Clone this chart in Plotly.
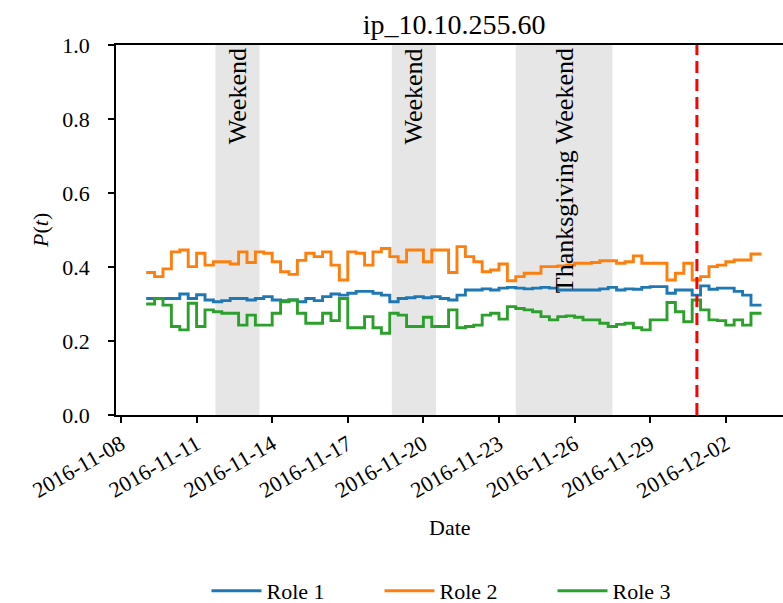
import pandas as pd
import plotly.graph_objects as go

# ---------------- data ----------------
start_time = "2016-11-09 00:00"
bin_hours = 8

role1 = [0.315, 0.315, 0.315, 0.315, 0.327, 0.315, 0.325, 0.311, 0.306, 0.309, 0.315, 0.315,
         0.311, 0.315, 0.320, 0.311, 0.309, 0.311, 0.306, 0.315, 0.309, 0.320, 0.327,
         0.324, 0.329, 0.334, 0.334, 0.329, 0.324, 0.306, 0.315, 0.317, 0.320, 0.317, 0.320,
         0.315, 0.311, 0.324, 0.338, 0.338, 0.341, 0.338, 0.343, 0.345, 0.343, 0.341, 0.343,
         0.345, 0.343,
         0.338, 0.338, 0.338, 0.338, 0.338, 0.341, 0.345, 0.338, 0.341, 0.340, 0.345, 0.347,
         0.347, 0.329, 0.338, 0.338, 0.324, 0.349, 0.340, 0.343, 0.343, 0.334, 0.324, 0.297, 0.297]

role2 = [0.385, 0.374, 0.395, 0.441, 0.446, 0.401, 0.437, 0.405, 0.414, 0.414, 0.408, 0.441,
         0.412, 0.441, 0.437, 0.414, 0.387, 0.380, 0.418, 0.437, 0.428, 0.441, 0.405,
         0.365, 0.441, 0.437, 0.405, 0.441, 0.450, 0.428, 0.414, 0.446, 0.446, 0.414, 0.446,
         0.446, 0.385, 0.455, 0.428, 0.414, 0.387, 0.392, 0.408, 0.363, 0.374, 0.383, 0.383,
         0.401, 0.401,
         0.403, 0.405, 0.410, 0.410, 0.412, 0.417, 0.417, 0.410, 0.414, 0.430, 0.410, 0.410,
         0.410, 0.365, 0.383, 0.410, 0.365, 0.374, 0.401, 0.405, 0.414, 0.419, 0.419, 0.435, 0.435]

role3 = [0.300, 0.315, 0.297, 0.239, 0.230, 0.302, 0.239, 0.284, 0.279, 0.275, 0.275, 0.243,
         0.270, 0.243, 0.243, 0.275, 0.306, 0.311, 0.275, 0.248, 0.248, 0.275, 0.255,
         0.315, 0.236, 0.236, 0.266, 0.236, 0.221, 0.275, 0.270, 0.239, 0.239, 0.264, 0.239,
         0.239, 0.284, 0.236, 0.239, 0.243, 0.270, 0.275, 0.259, 0.293, 0.288, 0.284, 0.279,
         0.266, 0.257,
         0.266, 0.268, 0.264, 0.257, 0.257, 0.248, 0.239, 0.245, 0.248, 0.236, 0.230, 0.257,
         0.257, 0.304, 0.279, 0.252, 0.311, 0.284, 0.257, 0.255, 0.243, 0.257, 0.243, 0.275, 0.275]

series_names = ["Role 1", "Role 2", "Role 3"]
series_colors = ["#1f77b4", "#ff7f0e", "#2ca02c"]

shade_starts = ["2016-11-11 18:00", "2016-11-18 18:00", "2016-11-23 16:00"]
shade_ends = ["2016-11-13 12:00", "2016-11-20 12:00", "2016-11-27 12:00"]
shade_labels = ["Weekend", "Weekend", "Thanksgiving Weekend"]

event_time = "2016-11-30 20:30"

tick_dates = ["2016-11-08", "2016-11-11", "2016-11-14", "2016-11-17", "2016-11-20",
              "2016-11-23", "2016-11-26", "2016-11-29", "2016-12-02"]
y_ticks = [0.0, 0.2, 0.4, 0.6, 0.8, 1.0]

x_range = ["2016-11-07 19:15", "2016-12-04 06:30"]
title_text = "ip_10.10.255.60"

# ---------------- figure ----------------
FONT = "Liberation Serif"
times = pd.date_range(start_time, periods=len(role1), freq=f"{bin_hours}h")
times_draw = list(times) + [times[-1] + pd.Timedelta(hours=2)]

fig = go.Figure()
for name, color, vals in zip(series_names, series_colors, [role1, role2, role3]):
    fig.add_trace(go.Scatter(
        x=times_draw, y=list(vals) + [vals[-1]], mode="lines", name=name,
        line=dict(color=color, width=2.9, shape="hv"),
    ))

for s, e, lab in zip(shade_starts, shade_ends, shade_labels):
    fig.add_vrect(x0=s, x1=e, fillcolor="rgba(128,128,128,0.2)", line_width=0, layer="below")
    mid = pd.Timestamp(s) + (pd.Timestamp(e) - pd.Timestamp(s)) / 2
    fig.add_annotation(x=mid, y=0.993, xref="x", yref="y", text=lab, textangle=-90,
                       showarrow=False, xanchor="center", yanchor="top",
                       font=dict(family=FONT, size=26, color="black"), borderpad=0)

fig.add_shape(type="line", x0=event_time, x1=event_time, y0=0, y1=1, xref="x", yref="y",
              line=dict(color="#ff0000", width=3, dash="12px,6px"))

fig.update_layout(
    width=783, height=603,
    margin=dict(l=116, r=0, t=45, b=188),
    paper_bgcolor="white", plot_bgcolor="white",
    font=dict(family=FONT, size=22, color="black"),
    title=dict(text=title_text, x=0.507, xref="paper", y=1 - 24 / 603, yref="container",
               xanchor="center", yanchor="middle", font=dict(family=FONT, size=28)),
    showlegend=True,
    legend=dict(orientation="h", x=466 / 783, xref="container", xanchor="center",
                y=1 - 591 / 603, yref="container", yanchor="middle",
                font=dict(family=FONT, size=22), entrywidth=108, entrywidthmode="pixels",
                itemwidth=50, bgcolor="rgba(0,0,0,0)"),
)

fig.update_xaxes(
    range=x_range, type="date", automargin=False,
    tickvals=tick_dates, ticktext=tick_dates, tickangle=-30,
    ticks="outside", ticklen=6, tickwidth=1.5, tickcolor="black",
    showline=True, linecolor="black", linewidth=1.5, mirror=True,
    showgrid=False, zeroline=False,
    tickfont=dict(family=FONT, size=22),
)
fig.update_yaxes(
    range=[0, 1], tickvals=y_ticks, tickformat=".1f", automargin=False,
    ticks="outside", ticklen=6, tickwidth=1.5, tickcolor="black",
    showline=True, linecolor="black", linewidth=1.5, mirror=False,
    showgrid=False, zeroline=False, ticklabelstandoff=14,
    tickfont=dict(family=FONT, size=22),
)

fig.add_annotation(text="Date", x=0.5, y=-0.303, xref="paper", yref="paper",
                   showarrow=False, xanchor="center", yanchor="middle",
                   font=dict(family=FONT, size=22))
fig.add_annotation(text="<i>P</i>(<i>t</i>)", x=-0.114, y=0.5, xref="paper", yref="paper",
                   showarrow=False, textangle=-90, xanchor="center", yanchor="middle",
                   font=dict(family=FONT, size=22))

fig.write_html("out.html", config={"displayModeBar": False},
               post_script="document.body.style.margin='0';")
